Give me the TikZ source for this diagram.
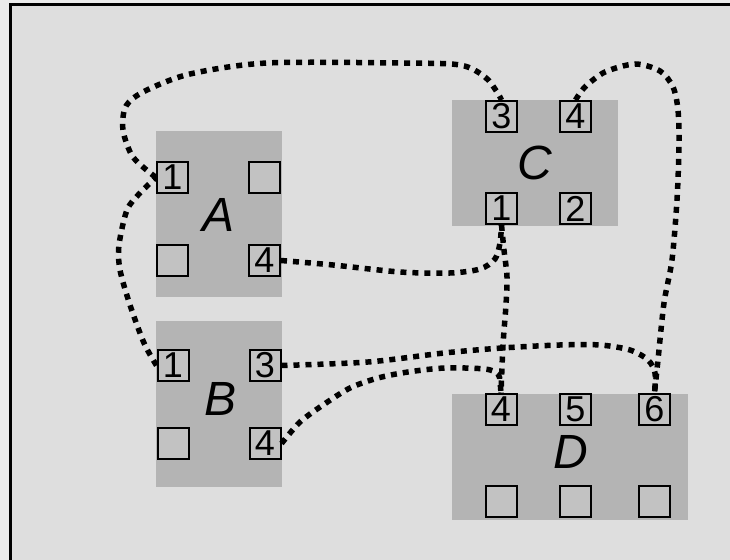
\documentclass[tikz,border=0pt]{standalone}
\usepackage{fontspec}
\setmainfont{Liberation Sans}
\usepackage{tikz}
\definecolor{outergray}{RGB}{235,235,235}
\definecolor{framegray}{RGB}{222,222,222}
\definecolor{boxgray}{RGB}{180,180,180}
\definecolor{portgray}{RGB}{194,194,194}

\begin{document}
\begin{tikzpicture}[x=0.5pt,y=-0.5pt,
    block/.style={fill=boxgray,inner sep=0pt},
    blockname/.style={inner sep=0pt,font=\fontsize{24}{24}\selectfont\itshape},
    port/.style={draw,line width=1pt,fill=portgray,minimum size=15.5pt,inner sep=0pt,font=\fontsize{18}{18}\selectfont},
    wire/.style={line width=2.75pt,dash pattern=on 3pt off 3pt}]
          \useasboundingbox (0,0) rectangle (730,560);
          \clip (0,0) rectangle (730,560);
          \fill[outergray] (0,0) rectangle (730,560);
          \draw[line width=1.25pt,fill=framegray] (10.5,4.5) rectangle (750,580);
          % blocks
          \node[block,minimum width=63pt,minimum height=83pt] (A) at (219,214) {};
          \node[block,minimum width=63pt,minimum height=83pt] (B) at (219,404) {};
          \node[block,minimum width=83pt,minimum height=63pt] (C) at (535,163) {};
          \node[block,minimum width=118pt,minimum height=63pt] (D) at (570,457) {};
          \node[blockname] (A-name) at (219,215) {A};
          \node[blockname] (B-name) at (221,399) {B};
          \node[blockname] (C-name) at (535,163) {C};
          \node[blockname] (D-name) at (571,452) {D};
          % ports
          \node[port] (A-1) at (172.5,177.5) {1};
          \node[port] (A-2) at (264.5,177.5) {};
          \node[port] (A-3) at (172.5,260.5) {};
          \node[port] (A-4) at (264.5,260.5) {4};
          \node[port] (B-1) at (173,365.5) {1};
          \node[port] (B-3) at (265,365.5) {3};
          \node[port] (B-2) at (173,443.5) {};
          \node[port] (B-4) at (265,443.5) {4};
          \node[port] (C-3) at (501.5,116.5) {3};
          \node[port] (C-4) at (575.5,116.5) {4};
          \node[port] (C-1) at (501.5,208.5) {1};
          \node[port] (C-2) at (575.5,208.5) {2};
          \node[port] (D-4) at (501,409.5) {4};
          \node[port] (D-5) at (575.5,409.5) {5};
          \node[port] (D-6) at (654.5,409.5) {6};
          \node[port] (D-1) at (501,501.5) {};
          \node[port] (D-2) at (575.5,501.5) {};
          \node[port] (D-3) at (654.5,501.5) {};
          % wires
          \draw[wire] plot[smooth] coordinates {(A-1.west) (133,157) (123,130) (126,106) (145,91) (190,74) (267,63) (400,63) (460,65) (485,77) (497,92) (C-3.north)};
          \draw[wire] plot[smooth] coordinates {(A-4.east) (333,265) (400,272) (450,273) (480,269) (495,259) (500,243) (C-1.south)};
          \draw[wire] plot[smooth] coordinates {(C-1.south) (504,250) (507,277) (506,305) (503,345) (D-4.north)};
          \draw[wire] plot[smooth] coordinates {(C-4.north) (585,87) (605,72) (635,64) (660,71) (673,87) (678,110) (679,145) (677,200) (672,260) (664,303) (658,360) (D-6.north)};
          \draw[wire] plot[smooth] coordinates {(B-1.west) (144,343) (130,305) (120,270) (119,245) (127,210) (140,193) (A-1.west)};
          \draw[wire] plot[smooth] coordinates {(B-3.east) (368,362) (444,353) (502,348) (560,345) (600,345) (630,350) (648,360) (655,373) (D-6.north)};
          \draw[wire] plot[smooth] coordinates {(B-4.east) (300,422) (323,405) (350,388) (378,378) (408,372) (445,368) (485,369) (498,374) (500,382) (D-4.north)};
\end{tikzpicture}
\end{document}
